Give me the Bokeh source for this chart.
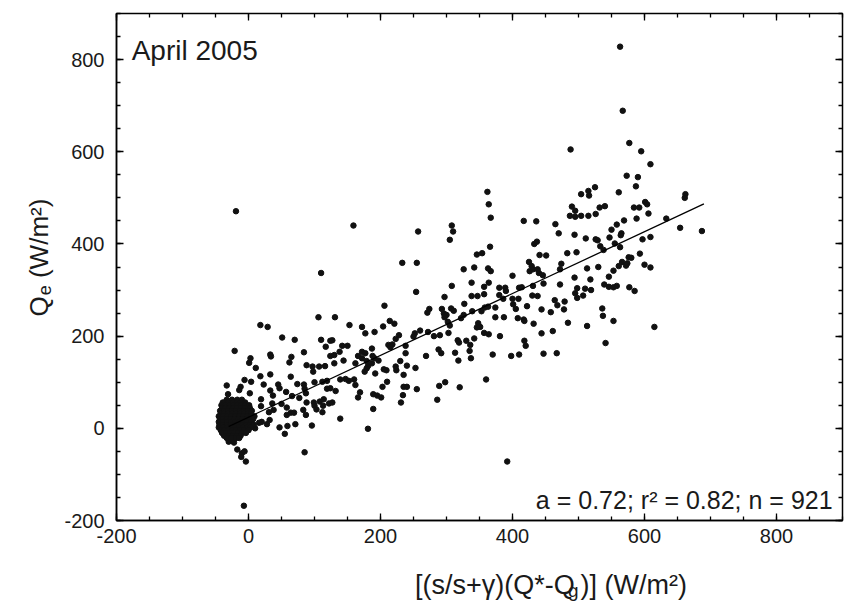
from bokeh.plotting import figure
from bokeh.layouts import row, column
from bokeh.models import Range1d, FixedTicker, LinearAxis, Label, ColumnDataSource
from bokeh.embed import file_html
from bokeh.resources import INLINE
import math

FONT = "Liberation Sans"

# ---------------- data ----------------
x_major = [-200, 0, 200, 400, 600, 800]
y_major = [-200, 0, 200, 400, 600, 800]
minor_ticks = [-200, -150, -100, -50, 0, 50, 100, 150, 200, 250, 300, 350, 400,
               450, 500, 550, 600, 650, 700, 750, 800, 850, 900]

# points around the cluster (x, y)
pts_near = [(98, 123), (18, 113), (33, 117), (64, 112), (-6, 105), (4, 101), (-33, 93), (-12, 90),
            (-14, 83), (23, 95), (45, 95), (47, 87), (74, 96), (84, 95), (85, 86), (100, 100),
            (112, 101), (119, 103), (119, 86), (2, 76), (-31, 74), (33, 82), (37, 71), (57, 79),
            (66, 70), (77, 66), (87, 76), (88, 56), (99, 56), (108, 58), (114, 63), (113, 49),
            (100, 49), (122, 54), (103, 41), (112, 35), (-36, 56), (-27, 58), (-22, 56), (19, 63),
            (19, 48), (36, 54), (38, 40), (31, 35), (50, 53), (58, 45), (64, 34), (69, 34), (58, 29),
            (83, 40), (87, 29), (47, 2), (55, -12), (59, 5), (71, 9), (96, 6), (20, 14), (28, 9),
            (32, 18), (16, 12), (10, 0), (6, 7), (85, -52), (-17, -46), (-10, -54), (-11, -62),
            (-6, -50), (-4, -72), (-7, -168), (-30, -29), (-22, -31), (-27, -26)]

# low band, x up to ~250
pts_low = [(-19, 471), (110, 337), (106, 241), (18, 224), (29, 220), (51, 197), (70, 192), (110, 192),
           (124, 190), (117, 177), (-21, 168), (3, 152), (1, 142), (33, 160), (34, 156), (65, 155),
           (62, 143), (84, 165), (88, 137), (97, 134), (107, 134), (116, 135), (11, 131), (124, 157),
           (181, 135), (176, 123), (179, 130), (192, 119), (209, 126), (224, 126), (235, 116),
           (139, 106), (147, 107), (152, 103), (160, 106), (162, 94), (169, 78), (166, 67), (132, 81),
           (127, 56), (124, 87), (139, 21), (181, -1), (189, 74), (195, 71), (201, 67), (189, 42),
           (203, 90), (210, 101), (235, 90), (240, 90), (234, 72), (231, 56), (255, 85), (289, 92),
           (298, 100), (286, 62), (320, 89), (360, 106), (392, -72)]

# middle band
pts_mid = [(362, 513), (364, 486), (367, 457), (159, 440), (257, 427), (308, 440), (310, 427),
           (305, 409), (366, 394), (346, 377), (354, 380), (233, 359), (255, 359), (326, 345),
           (342, 349), (363, 347), (367, 341), (400, 331), (338, 316), (364, 316), (357, 307),
           (308, 309), (254, 296), (380, 305), (389, 305), (390, 298), (410, 305), (338, 287),
           (347, 287), (357, 291), (297, 285), (380, 289), (386, 281), (400, 281), (409, 281),
           (206, 266), (327, 270), (274, 259), (271, 251), (293, 259), (296, 249), (300, 246),
           (307, 260), (311, 255), (302, 231), (297, 241), (339, 254), (353, 254), (358, 262),
           (363, 264), (374, 262), (401, 269), (405, 259), (326, 246), (322, 239), (374, 241),
           (387, 241), (408, 239), (131, 241), (153, 224), (172, 220), (177, 206), (191, 209),
           (204, 221), (214, 233), (221, 227), (348, 228), (351, 220), (346, 219), (305, 223),
           (357, 207), (364, 204), (381, 200), (342, 195), (260, 212), (252, 206), (250, 199),
           (228, 202), (223, 194), (218, 182), (212, 181), (215, 176), (272, 209), (281, 200),
           (290, 202), (303, 207), (317, 191), (319, 186), (330, 190), (336, 181), (335, 168),
           (269, 157), (238, 179), (238, 163), (288, 171), (292, 163), (313, 164), (318, 147),
           (337, 152), (370, 160), (398, 157), (410, 160), (127, 191), (130, 159), (142, 179),
           (150, 179), (138, 166), (144, 147), (130, 141), (162, 141), (166, 157), (172, 166),
           (177, 163), (172, 152), (179, 146), (188, 157), (187, 173), (191, 152), (197, 147),
           (187, 141), (205, 128), (223, 134), (230, 146), (240, 136), (253, 131)]

# high band, x above ~400
pts_high = [(563, 828), (567, 689), (488, 605), (577, 619), (595, 601), (609, 573), (573, 548),
            (590, 545), (587, 525), (561, 512), (525, 523), (515, 515), (516, 505), (504, 508),
            (490, 481), (532, 479), (540, 482), (584, 479), (592, 479), (601, 491), (604, 486),
            (662, 508), (661, 500), (495, 472), (487, 461), (495, 459), (504, 461), (515, 461),
            (526, 465), (606, 466), (588, 455), (569, 451), (558, 442), (550, 431), (565, 423),
            (564, 419), (633, 455), (654, 435), (687, 428), (417, 450), (436, 449), (465, 443),
            (470, 423), (494, 420), (511, 412), (526, 410), (529, 408), (547, 414), (555, 401),
            (538, 387), (563, 393), (533, 395), (597, 410), (609, 415), (593, 379), (433, 400),
            (437, 405), (441, 376), (451, 375), (483, 380), (497, 382), (425, 361), (429, 352),
            (426, 341), (431, 345), (438, 345), (440, 337), (446, 332), (447, 314), (474, 357),
            (472, 345), (414, 306), (431, 309), (430, 288), (438, 287), (494, 327), (498, 304),
            (495, 293), (498, 283), (507, 288), (510, 303), (519, 300), (518, 323), (513, 347),
            (530, 350), (472, 312), (464, 278), (468, 267), (478, 258), (479, 275), (458, 252),
            (444, 258), (422, 265), (417, 236), (418, 233), (432, 227), (444, 206), (461, 211),
            (418, 190), (420, 179), (447, 162), (467, 163), (484, 229), (513, 222), (536, 260),
            (537, 244), (553, 233), (541, 185), (615, 220), (576, 371), (580, 370), (574, 358),
            (572, 353), (566, 361), (561, 352), (553, 342), (546, 329), (539, 312), (546, 307),
            (553, 306), (558, 309), (577, 306), (585, 298), (600, 355), (609, 349)]

# the dense cluster near the origin, row by row (y of row, x positions in row)
cluster_row_y = [62, 56, 50, 44, 38, 32, 26, 20, 14, 8, 2, -4, -10, -16, -21]
cluster_row_x = [
    [-33, -25, -17, -10],
    [-39, -31, -24, -18, -12, -5],
    [-41, -35, -29, -23, -17, -11, -5, 1],
    [-40, -35, -29, -23, -17, -11, -5, 2],
    [-43, -37, -31, -25, -19, -13, -7, -1, 5],
    [-42, -37, -31, -25, -19, -13, -7, -1, 4],
    [-45, -38, -32, -26, -20, -14, -8, -2, 4, 9],
    [-43, -39, -33, -27, -21, -15, -9, -3, 3, 7],
    [-45, -38, -32, -26, -20, -14, -8, -2, 4],
    [-44, -39, -33, -27, -21, -15, -9, -3, 3, 8],
    [-45, -38, -32, -26, -20, -14, -8, -2, 3],
    [-42, -37, -31, -25, -19, -13, -7, 0],
    [-40, -34, -28, -22, -16, -10, -4],
    [-37, -30, -24, -18, -12],
    [-33, -26, -19, -14],
]

# regression line end points
fit_x = [-30, 690]
fit_y = [4, 487]

panel_title = "April 2005"
stats_text = "a = 0.72; r\u00b2 = 0.82; n = 921"
y_label_parts = ["Q", "e", "(W/m\u00b2)"]
x_label_parts = ["[(s/s+\u03b3)(Q*-Q", "g", ")] (W/m\u00b2)"]

# ---------------- build ----------------
xs, ys = [], []
for group in (pts_near, pts_low, pts_mid, pts_high):
    for (a, b) in group:
        xs.append(a)
        ys.append(b)
for yy, rw in zip(cluster_row_y, cluster_row_x):
    for xx in rw:
        xs.append(xx)
        ys.append(yy)

src = ColumnDataSource(data=dict(x=xs, y=ys))

LEFT_W = 60
BOTTOM_H = 52
W, H = 846, 604
tick_color = "#1a1a1a"

p = figure(width=W - LEFT_W, height=H - BOTTOM_H, output_backend="svg", toolbar_location=None,
           x_range=Range1d(-200, 900), y_range=Range1d(-200, 900),
           min_border_left=116 - LEFT_W, min_border_right=4, min_border_top=13, min_border_bottom=32)
p.background_fill_color = "white"
p.border_fill_color = "white"
p.grid.visible = False
p.outline_line_color = "black"
p.outline_line_width = 1.5

p.scatter("x", "y", source=src, size=5.5, color="#111111", line_color="#111111")
p.line(fit_x, fit_y, line_color="black", line_width=1.3)


def style_axis(ax, ticks, labels=True):
    ax.ticker = FixedTicker(ticks=ticks, minor_ticks=minor_ticks)
    ax.axis_line_color = "black"
    ax.axis_line_width = 1.5
    ax.major_tick_in = 7
    ax.major_tick_out = 0
    ax.minor_tick_in = 4
    ax.minor_tick_out = 0
    ax.major_tick_line_color = "black"
    ax.minor_tick_line_color = "black"
    ax.major_tick_line_width = 1.3
    ax.minor_tick_line_width = 1.3
    if labels:
        ax.major_label_text_font = FONT
        ax.major_label_text_font_size = "20px"
        ax.major_label_text_color = tick_color
        ax.major_label_overrides = {t: str(t) for t in ticks}
    else:
        ax.major_label_overrides = {t: "" for t in ticks}
        ax.major_label_standoff = 0


style_axis(p.xaxis[0], x_major)
style_axis(p.yaxis[0], y_major)
p.xaxis[0].major_label_standoff = 8
p.yaxis[0].major_label_standoff = 12

top = LinearAxis()
style_axis(top, x_major, labels=False)
top.axis_line_color = None
p.add_layout(top, "above")
right = LinearAxis()
style_axis(right, y_major, labels=False)
right.axis_line_color = None
p.add_layout(right, "right")

p.add_layout(Label(x=-177, y=820, text=panel_title, text_font=FONT, text_font_size="28px",
                   text_color=tick_color, text_align="left", text_baseline="alphabetic"))
p.add_layout(Label(x=885, y=-155, text=stats_text, text_font=FONT, text_font_size="25px",
                   text_color=tick_color, text_align="right", text_baseline="alphabetic"))


def strip(width, height):
    f = figure(width=width, height=height, output_backend="svg", toolbar_location=None,
               x_range=Range1d(0, width), y_range=Range1d(0, height),
               x_axis_location=None, y_axis_location=None,
               min_border=0, min_border_left=0, min_border_right=0,
               min_border_top=0, min_border_bottom=0)
    f.grid.visible = False
    f.outline_line_color = None
    f.background_fill_color = "white"
    f.border_fill_color = "white"
    return f


fs = 26
fs_sub = 18

# x axis title strip (below), coordinates in pixels of the strip
fx = 27
fx_sub = 19
pb = strip(W - LEFT_W, BOTTOM_H)
w1 = 5.917 * fx + 6
w2 = 0.556 * fx_sub + 3
w3 = 3.943 * fx
x_start = 526 - LEFT_W - (w1 + w2 + w3) / 2
base = 20
pb.add_layout(Label(x=x_start, y=base, text=x_label_parts[0], text_font=FONT,
                    text_font_size=f"{fx}px", text_color=tick_color, text_align="left",
                    text_baseline="alphabetic"))
pb.add_layout(Label(x=x_start + w1, y=base - 6, text=x_label_parts[1], text_font=FONT,
                    text_font_size=f"{fx_sub}px", text_color=tick_color, text_align="left",
                    text_baseline="alphabetic"))
pb.add_layout(Label(x=x_start + w1 + w2, y=base, text=x_label_parts[2], text_font=FONT,
                    text_font_size=f"{fx}px", text_color=tick_color, text_align="left",
                    text_baseline="alphabetic"))

# y axis title strip (left), rotated text reading upward
pl = strip(LEFT_W, H)
ang = math.pi / 2
bx = 38
y0 = 604 - 316
q_w = 0.778 * fs + 1
e_w = 0.556 * fs_sub + 0.278 * fs
pl.add_layout(Label(x=bx, y=y0, text=y_label_parts[0], text_font=FONT, angle=ang,
                    text_font_size=f"{fs}px", text_color=tick_color, text_align="left",
                    text_baseline="alphabetic"))
pl.add_layout(Label(x=bx + 6, y=y0 + q_w, text=y_label_parts[1], text_font=FONT, angle=ang,
                    text_font_size=f"{fs_sub}px", text_color=tick_color, text_align="left",
                    text_baseline="alphabetic"))
pl.add_layout(Label(x=bx, y=y0 + q_w + e_w, text=y_label_parts[2], text_font=FONT, angle=ang,
                    text_font_size=f"{fs}px", text_color=tick_color, text_align="left",
                    text_baseline="alphabetic"))

layout = row(pl, column(p, pb, spacing=0), spacing=0)
open("out.html", "w").write(file_html(layout, INLINE))
